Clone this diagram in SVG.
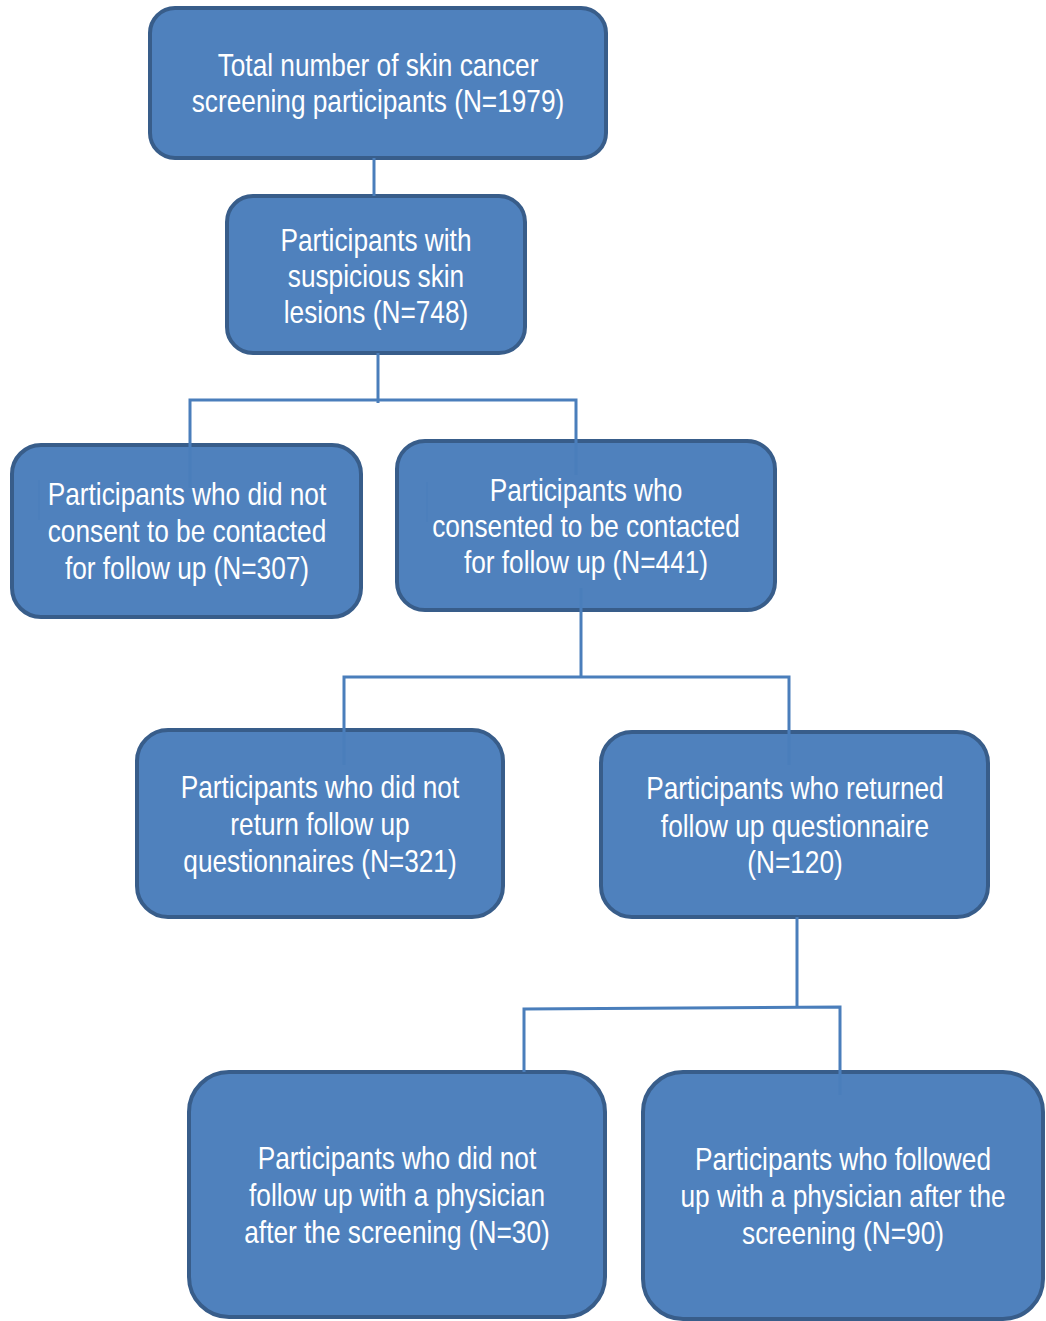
<svg xmlns="http://www.w3.org/2000/svg" width="1046" height="1321" viewBox="0 0 1046 1321">
<style>
.box{fill:#4F81BD;stroke:#385D8A;stroke-width:4}
.lbl{font-family:"Liberation Sans",Arial,sans-serif;font-size:32px;fill:#FFFFFF;text-anchor:middle}
.con{stroke:#4A7EBB;stroke-width:3;fill:none}
.faint{stroke:#4A7EBB;stroke-width:2;fill:none;opacity:0.5}
</style>
<rect width="1046" height="1321" fill="#FFFFFF"/>
<g id="node-total">
<rect class="box" x="150" y="8" width="456" height="150" rx="25"/>
<g transform="translate(378 0) scale(0.82 1)">
<text class="lbl" x="0" y="76">Total number of skin cancer</text>
<text class="lbl" x="0" y="112">screening participants (N=1979)</text>
</g>
</g>
<g id="node-suspicious">
<rect class="box" x="227" y="196" width="298" height="157" rx="26"/>
<g transform="translate(376 0) scale(0.82 1)">
<text class="lbl" x="0" y="251">Participants with</text>
<text class="lbl" x="0" y="287">suspicious skin</text>
<text class="lbl" x="0" y="323">lesions (N=748)</text>
</g>
</g>
<g id="node-no-consent">
<rect class="box" x="12" y="445" width="349" height="172" rx="29"/>
<g transform="translate(187 0) scale(0.82 1)">
<text class="lbl" x="0" y="505">Participants who did not</text>
<text class="lbl" x="0" y="542">consent to be contacted</text>
<text class="lbl" x="0" y="579">for follow up (N=307)</text>
</g>
</g>
<g id="node-consent">
<rect class="box" x="397" y="441" width="378" height="169" rx="28"/>
<g transform="translate(586 0) scale(0.82 1)">
<text class="lbl" x="0" y="501">Participants who</text>
<text class="lbl" x="0" y="537">consented to be contacted</text>
<text class="lbl" x="0" y="573">for follow up (N=441)</text>
</g>
</g>
<g id="node-not-returned">
<rect class="box" x="137" y="730" width="366" height="187" rx="31"/>
<g transform="translate(320 0) scale(0.82 1)">
<text class="lbl" x="0" y="798">Participants who did not</text>
<text class="lbl" x="0" y="835">return follow up</text>
<text class="lbl" x="0" y="872">questionnaires (N=321)</text>
</g>
</g>
<g id="node-returned">
<rect class="box" x="601" y="732" width="387" height="185" rx="31"/>
<g transform="translate(795 0) scale(0.82 1)">
<text class="lbl" x="0" y="799">Participants who returned</text>
<text class="lbl" x="0" y="837">follow up questionnaire</text>
<text class="lbl" x="0" y="873">(N=120)</text>
</g>
</g>
<g id="node-no-physician">
<rect class="box" x="189" y="1072" width="416" height="245" rx="40"/>
<g transform="translate(397 0) scale(0.82 1)">
<text class="lbl" x="0" y="1169">Participants who did not</text>
<text class="lbl" x="0" y="1206">follow up with a physician</text>
<text class="lbl" x="0" y="1243">after the screening (N=30)</text>
</g>
</g>
<g id="node-physician">
<rect class="box" x="643" y="1072" width="400" height="247" rx="40"/>
<g transform="translate(843 0) scale(0.82 1)">
<text class="lbl" x="0" y="1170">Participants who followed</text>
<text class="lbl" x="0" y="1207">up with a physician after the</text>
<text class="lbl" x="0" y="1244">screening (N=90)</text>
</g>
</g>
<g id="connectors">
<line class="con" x1="374" y1="158" x2="374" y2="196"/>
<polyline class="con" points="378,353 378,403"/>
<polyline class="con" points="190,488 190,400 576,400 576,475"/>
<line class="con" x1="581" y1="588" x2="581" y2="677"/>
<polyline class="con" points="344,765 344,677 789,677 789,765"/>
<line class="con" x1="797" y1="917" x2="797" y2="1007"/>
<polyline class="con" points="524,1072 524,1009 840,1007 840,1095"/>
<line class="faint" x1="39" y1="480" x2="39" y2="520"/>
<line class="faint" x1="427" y1="482" x2="427" y2="522"/>
</g>
</svg>
